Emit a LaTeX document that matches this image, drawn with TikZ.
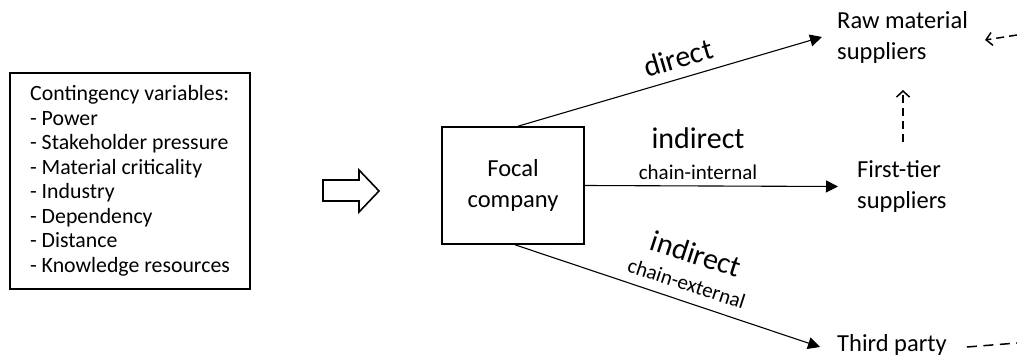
\documentclass[tikz,border=0pt]{standalone}
\usepackage{fontspec}
\setmainfont{Carlito}
\usetikzlibrary{arrows.meta}
\begin{document}
\begin{tikzpicture}[x=1pt,y=-1pt,
  framebox/.style={draw, line width=1.6pt, inner sep=0pt},
  vartext/.style={font=\fontsize{21.8}{24.5}\selectfont, align=left},
  party/.style={font=\fontsize{24.5}{30.5}\selectfont, align=left, inner sep=0pt},
  mainlab/.style={font=\fontsize{30}{34}\selectfont, inner sep=0pt},
  pairlab/.style={font=\fontsize{21}{24}\selectfont, align=center, inner sep=0pt},
  conn/.style={line width=1.1pt, -{Triangle[length=12pt,width=12pt]}},
  dconn/.style={line width=1.5pt, dash pattern=on 8pt off 5pt,
                -{Straight Barb[length=6pt,width=13pt]}},
  dline/.style={line width=1.5pt, dash pattern=on 10pt off 6.5pt}]
\useasboundingbox (0,0) rectangle (1017,356);

% contingency variables
\node[framebox, vartext, minimum width=240pt, minimum height=216pt] (cv) at (130,181)
  {Contingency variables:\\- Power\\- Stakeholder pressure\\- Material criticality\\- Industry\\- Dependency\\- Distance\\- Knowledge resources};

% hollow block arrow
\draw[line width=1.6pt] (323,180) -- (359,180) -- (359,170) -- (379,191)
  -- (359,212) -- (359,201) -- (323,201) -- cycle;

% focal company
\node[framebox, party, align=center, minimum width=142pt, minimum height=117pt] (focal)
  at (513,185.5) {Focal\\company};

% supply chain parties
\node[party, anchor=west] (raw) at (837,37.5) {Raw material\\suppliers};
\node[party, anchor=west] (first) at (857,186.5) {First-tier\\suppliers};
\node[party, anchor=west] (third) at (837,345) {Third party};
\coordinate (rawend) at (1017,35);
\coordinate (thirdend) at (1017,343);

% relations
\draw[conn] ([xshift=5pt]focal.north) -- ([xshift=-15pt,yshift=0.5pt]raw.west);
\draw[conn] (focal.east) -- ([xshift=-19pt]first.west);
\draw[conn] ([xshift=2pt]focal.south) -- ([xshift=-17pt,yshift=-2pt]third.west);

\draw[dconn] (rawend) -- ([xshift=17pt,yshift=-2.5pt]raw.east);
\coordinate (vbot) at (903,142);
\coordinate (vtop) at (903,90);
\draw[dconn] (vbot) -- (vtop);
\draw[dline] ([xshift=20pt,yshift=-2pt]third.east) -- (thirdend);

% relation labels
\node[mainlab, rotate=16.5] (ldirect) at (678,58) {direct};
\node[pairlab] (linternal) at (698,153.4)
  {{\fontsize{30}{34}\selectfont indirect}\\[7pt]chain-internal};
\node[pairlab, rotate=-18] (lexternal) at (692,267)
  {{\fontsize{30}{34}\selectfont indirect}\\[4pt]chain-external};
\end{tikzpicture}
\end{document}
